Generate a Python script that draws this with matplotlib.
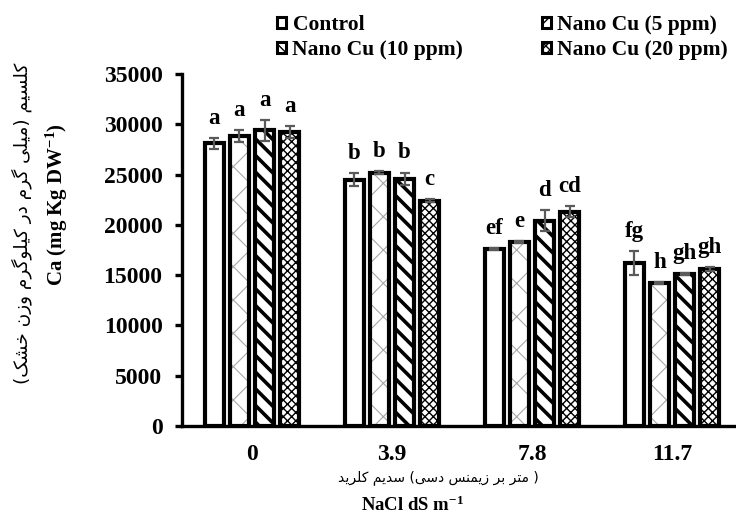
import matplotlib
matplotlib.use("Agg")
import matplotlib.pyplot as plt
from matplotlib.patches import Patch
import numpy as np

salinity = ["0", "3.9", "7.8", "11.7"]
treatments = ["Control", "Nano Cu (5 ppm)", "Nano Cu (10 ppm)", "Nano Cu (20 ppm)"]

ca_control = [28100, 24500, 17600, 16200]
ca_cu5 = [28800, 25200, 18300, 14200]
ca_cu10 = [29400, 24600, 20400, 15100]
ca_cu20 = [29200, 22400, 21300, 15600]

err_control = [550, 650, 80, 1200]
err_cu5 = [600, 150, 80, 80]
err_cu10 = [1050, 600, 1050, 120]
err_cu20 = [600, 150, 550, 220]

letters_control = ["a", "b", "ef", "fg"]
letters_cu5 = ["a", "b", "e", "h"]
letters_cu10 = ["a", "b", "d", "gh"]
letters_cu20 = ["a", "c", "cd", "gh"]

# Persian presentation forms: isolated, final, initial, medial
FORMS = {
    "ب": ("\uFE8F", "\uFE90", "\uFE91", "\uFE92"),
    "ت": ("\uFE95", "\uFE96", "\uFE97", "\uFE98"),
    "خ": ("\uFEA5", "\uFEA6", "\uFEA7", "\uFEA8"),
    "د": ("\uFEA9", "\uFEAA", None, None),
    "ر": ("\uFEAD", "\uFEAE", None, None),
    "ز": ("\uFEAF", "\uFEB0", None, None),
    "س": ("\uFEB1", "\uFEB2", "\uFEB3", "\uFEB4"),
    "ش": ("\uFEB5", "\uFEB6", "\uFEB7", "\uFEB8"),
    "ل": ("\uFEDD", "\uFEDE", "\uFEDF", "\uFEE0"),
    "م": ("\uFEE1", "\uFEE2", "\uFEE3", "\uFEE4"),
    "ن": ("\uFEE5", "\uFEE6", "\uFEE7", "\uFEE8"),
    "و": ("\uFEED", "\uFEEE", None, None),
    "ک": ("\uFB8E", "\uFB8F", "\uFB90", "\uFB91"),
    "گ": ("\uFB92", "\uFB93", "\uFB94", "\uFB95"),
    "ی": ("\uFBFC", "\uFBFD", "\uFBFE", "\uFBFF"),
}


def shape(word):
    # join letters and return them in visual (right-to-left) order
    out = []
    for i, c in enumerate(word):
        if c not in FORMS:
            out.append(c)
            continue
        prev = i > 0 and word[i - 1] in FORMS and FORMS[word[i - 1]][2] is not None
        nxt = i < len(word) - 1 and word[i + 1] in FORMS and FORMS[c][2] is not None
        idx = 3 if (prev and nxt) else 1 if prev else 2 if nxt else 0
        out.append(FORMS[c][idx])
    return "".join(reversed(out))


fa_ylabel = "(" + " ".join(shape(w) for w in ["خشک", "وزن", "کیلوگرم", "در", "گرم", "میلی"]) + ") " + shape("کلسیم")
fa_xlabel = (shape("کلرید") + " " + shape("سدیم") + " (" +
             " ".join(shape(w) for w in ["دسی", "زیمنس", "بر", "متر"]) + " )")

plt.rcParams["font.family"] = ["Liberation Serif", "DejaVu Sans"]
plt.rcParams["font.weight"] = "bold"
plt.rcParams["mathtext.fontset"] = "custom"
plt.rcParams["mathtext.rm"] = "Liberation Serif:bold"
plt.rcParams["mathtext.default"] = "rm"

W, H = 736, 525
fig = plt.figure(figsize=(W / 100, H / 100), dpi=100)
ax = fig.add_axes([182 / W, 99 / H, 560 / W, 352 / H])

series = [
    (ca_control, err_control, letters_control, None, "black", 0.0),
    (ca_cu5, err_cu5, letters_cu5, "x", "#a8a8a8", 0.8),
    (ca_cu10, err_cu10, letters_cu10, "\\\\", "black", 2.6),
    (ca_cu20, err_cu20, letters_cu20, "xxxx", "black", 1.0),
]

x = np.arange(len(salinity))
pitch = 0.179
width = 0.136

for j, (vals, errs, lets, hatch, hcol, hlw) in enumerate(series):
    pos = x + (j - 1.5) * pitch
    if hatch:
        with plt.rc_context({"hatch.linewidth": hlw}):
            ax.bar(pos, vals, width, color="white", edgecolor=hcol, hatch=hatch, linewidth=0, zorder=2)
    ax.bar(pos, vals, width, fill=False, edgecolor="black", linewidth=3, zorder=3)
    ax.errorbar(pos, vals, yerr=errs, fmt="none", ecolor="#5a5a5a", elinewidth=1.6,
                capsize=3.8, capthick=1.6, zorder=4)
    for xp, v, e, t in zip(pos, vals, errs, lets):
        ax.text(xp, v + e + 1400, t, ha="center", va="baseline", fontsize=16.5, fontweight="bold")

ax.set_xlim(-0.5, len(salinity) - 0.5)
ax.set_ylim(0, 35000)
ax.set_yticks(np.arange(0, 35001, 5000))
ax.set_xticks(x)
ax.set_xticklabels(salinity)
for s in ["top", "right"]:
    ax.spines[s].set_visible(False)
for s in ["left", "bottom"]:
    ax.spines[s].set_linewidth(2.4)
ax.tick_params(axis="y", length=5, width=2.4, pad=9, labelsize=17)
ax.tick_params(axis="x", length=0, pad=13, labelsize=17)

handles = [
    Patch(facecolor="white", edgecolor="black", linewidth=2.2),
    Patch(facecolor="white", edgecolor="black", linewidth=2.2, hatch="x"),
    Patch(facecolor="white", edgecolor="black", linewidth=2.2, hatch="\\\\"),
    Patch(facecolor="white", edgecolor="black", linewidth=2.2, hatch="xxxx"),
]
# column-major fill: Control / 10 ppm in the first column, 5 / 20 ppm in the second
order = [0, 2, 1, 3]
fig.legend([handles[i] for i in order], [treatments[i] for i in order],
           loc="upper left", bbox_to_anchor=(277 / W, 1 - 15 / H), ncol=2, frameon=False,
           fontsize=15.5, handlelength=0.42, handleheight=0.42, handletextpad=0.3,
           columnspacing=3.65, labelspacing=0.25, borderpad=0, borderaxespad=0)

fig.text(57 / W, 1 - 205 / H, "Ca (mg Kg DW$^{-1}$)", rotation=90, ha="center", va="center",
         fontsize=15, fontweight="bold")
fig.text(22 / W, 1 - 223 / H, fa_ylabel, rotation=90, ha="center", va="center",
         fontsize=13.3, fontweight="normal", family="DejaVu Sans")
fig.text(438 / W, 1 - 478 / H, fa_xlabel, ha="center", va="center",
         fontsize=10, fontweight="normal", family="DejaVu Sans")
fig.text(413 / W, 1 - 505 / H, "NaCl dS m$^{-1}$", ha="center", va="center",
         fontsize=13.5, fontweight="bold")

fig.savefig("out.png", dpi=100)
